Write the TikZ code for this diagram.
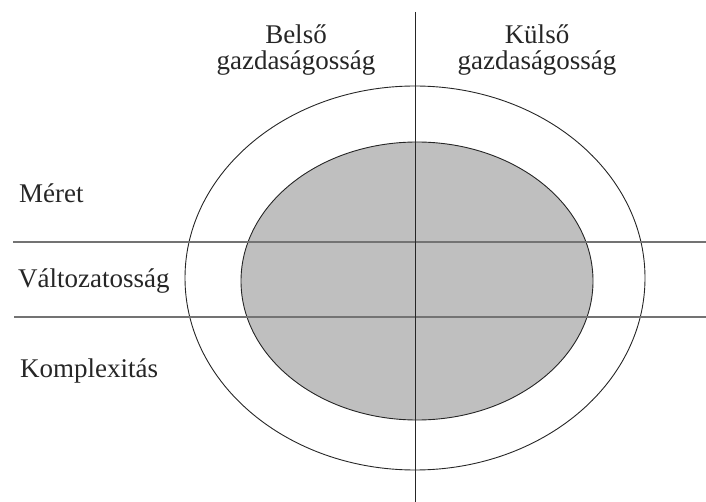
\documentclass[tikz,border=0pt]{standalone}
\usepackage{fontspec}
\setmainfont{Liberation Serif}
\begin{document}
\begin{tikzpicture}[x=1pt,y=-1pt,
  rim/.style={draw=black!85,line width=0.9pt},
  core/.style={draw=black!85,line width=0.9pt,fill=black!25},
  rowline/.style={draw=black!55,line width=1.1pt},
  axisline/.style={draw=black!85,line width=1pt},
  label/.style={inner sep=0pt,font=\fontsize{27}{26}\selectfont,text=black!85},
  head/.style={label,align=center,anchor=base}]
  \useasboundingbox (0,0) rectangle (706,502);
  % concentric ellipses
  \draw[rim] (415,278) ellipse [x radius=230, y radius=192];
  \draw[core] (417,281) ellipse [x radius=176, y radius=139];
  % grid lines
  \coordinate (r1w) at (13,242);
  \coordinate (r1e) at (706,242);
  \coordinate (r2w) at (14,317);
  \coordinate (r2e) at (706,317);
  \coordinate (vtop) at (415.5,12);
  \coordinate (vbot) at (415.5,502);
  \draw[rowline] (r1w) -- (r1e);
  \draw[rowline] (r2w) -- (r2e);
  \draw[axisline] (vtop) -- (vbot);
  % column headings (anchored at the baseline of the second line)
  \node[head] (inner) at (296,70) {Belső\\gazdaságosság};
  \node[head] (outer) at (537,70) {Külső\\gazdaságosság};
  % row labels
  \node[label,anchor=base west] (size) at (19,203) {Méret};
  \node[label,anchor=base west] (variety) at (18,288) {Változatosság};
  \node[label,anchor=base west] (complexity) at (20,377) {Komplexitás};
\end{tikzpicture}
\end{document}
